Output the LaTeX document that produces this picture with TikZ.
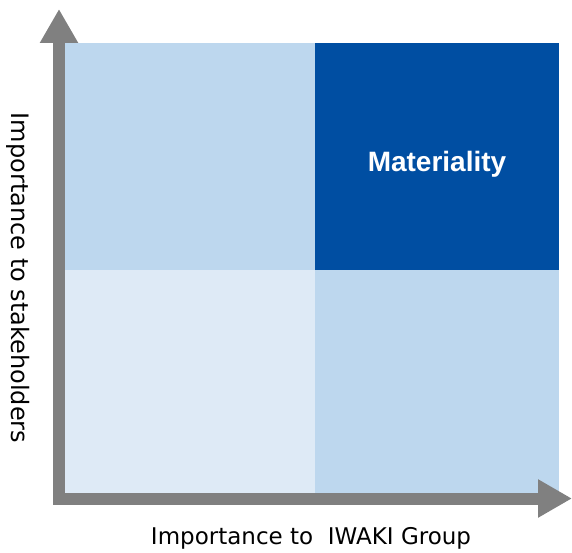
\documentclass[tikz,border=0pt]{standalone}
\usepackage{fontspec}
\setmainfont{DejaVu Sans}
\newfontfamily\matfont{Liberation Sans}
\usetikzlibrary{positioning,arrows.meta}
\definecolor{matblue}{RGB}{0,78,162}
\definecolor{midblue}{RGB}{189,215,238}
\definecolor{paleblue}{RGB}{222,234,246}
\definecolor{axisgray}{RGB}{128,128,128}
\tikzstyle{cell} = [rectangle, inner sep=0pt, outer sep=0pt, draw=none]
\tikzstyle{axis} = [draw=axisgray, line width=12pt, -{Triangle[length=34pt, width=36pt]}]
\tikzstyle{axislabel} = [inner sep=0pt, font=\fontsize{23}{28}\selectfont]

\begin{document}
\begin{tikzpicture}[x=1pt, y=1pt]
    \useasboundingbox (0,0) rectangle (572,552);

    % Place nodes
    \node [cell, fill=midblue, minimum width=250pt, minimum height=227pt, anchor=north west] (high-stake) at (65,509) {};
    \node [cell, fill=matblue, minimum width=244pt, minimum height=227pt, right=0pt of high-stake] (materiality) {};
    \node [cell, fill=paleblue, minimum width=250pt, minimum height=223pt, below=0pt of high-stake] (low-both) {};
    \node [cell, fill=midblue, minimum width=244pt, minimum height=223pt, below=0pt of materiality] (high-iwaki) {};
    \node [inner sep=0pt, anchor=base, text=white, font=\matfont\bfseries\fontsize{28}{32}\selectfont]
          (mat-text) at ([yshift=-15pt]materiality.center) {Materiality};

    \node [axislabel, anchor=base] (x-label) at (311,8) {Importance to\ \ IWAKI Group};
    \node [axislabel, rotate=-90, anchor=base, font=\fontsize{24}{28}\selectfont] (y-label) at (11,274) {Importance to stakeholders};

    % Axis end points
    \coordinate (y-start) at (59,50);
    \coordinate (y-end) at (59,543);
    \coordinate (x-start) at (53,53.5);
    \coordinate (x-end) at (572,53.5);

    % Draw edges
    \path [axis] (y-start) -- (y-end);
    \path [axis] (x-start) -- (x-end);
\end{tikzpicture}
\end{document}
